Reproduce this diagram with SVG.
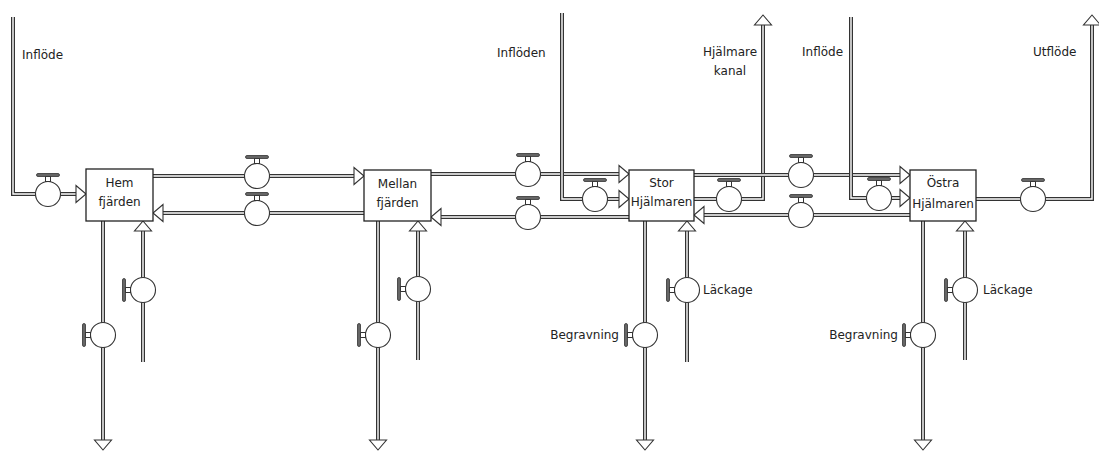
<svg xmlns="http://www.w3.org/2000/svg" xmlns:xlink="http://www.w3.org/1999/xlink" width="1099" height="453" viewBox="0 0 1099 453">
<style>
.po{fill:none;stroke:#333;stroke-width:4;stroke-linejoin:miter}
.pi{fill:none;stroke:#fff;stroke-width:1.4;stroke-linejoin:miter}
.box{fill:#fff;stroke:#222;stroke-width:1.3}
.ar{fill:#fff;stroke:#333;stroke-width:1.1;stroke-linejoin:miter}
.vc{fill:#fff;stroke:#333;stroke-width:1.1}
.vs{fill:#fff;stroke:#333;stroke-width:1}
.vb{fill:#666;stroke:#333;stroke-width:0.8}
text{font-family:"DejaVu Sans","Liberation Sans",sans-serif;font-size:12px;fill:#222}
.c{text-anchor:middle}
.e{text-anchor:end}
</style>
<defs>
<polygon id="ah" class="ar" points="0,0 -10,-8.5 -10,8.5"/>
<g id="vh">
<circle class="vc" cx="0" cy="0" r="12.5"/>
<rect class="vs" x="-2.5" y="-17.5" width="5" height="5"/>
<rect class="vb" x="-11.5" y="-20.5" width="23" height="3" rx="1.5"/>
</g>
<g id="vv" transform="rotate(-90)">
<use xlink:href="#vh"/>
</g>
<path id="p1" d="M13,17 V194 H77"/>
<path id="p2" d="M153,176 H355"/>
<path id="p3" d="M364,213 H163"/>
<path id="p4" d="M103,221 V440"/>
<path id="p5" d="M143,362 V231"/>
<path id="p6" d="M431,174 H619"/>
<path id="p7" d="M629,217 H441"/>
<path id="p8" d="M378,221 V440"/>
<path id="p9" d="M418,360 V231"/>
<path id="p10" d="M562,13 V199 H619"/>
<path id="p11" d="M694,175 H900"/>
<path id="p12" d="M910,215 H704"/>
<path id="p13" d="M694,199 H763 V25"/>
<path id="p14" d="M645,221 V440"/>
<path id="p15" d="M687,362 V231"/>
<path id="p16" d="M851,17 V198 H900"/>
<path id="p17" d="M976,199 H1092 V25"/>
<path id="p18" d="M923,221 V440"/>
<path id="p19" d="M965,360 V231"/>
</defs>
<rect width="1099" height="453" fill="#fff"/>
<g id="connectors">
<g id="pipes">
<use xlink:href="#p1" class="po"/><use xlink:href="#p1" class="pi"/>
<use xlink:href="#p2" class="po"/><use xlink:href="#p2" class="pi"/>
<use xlink:href="#p3" class="po"/><use xlink:href="#p3" class="pi"/>
<use xlink:href="#p4" class="po"/><use xlink:href="#p4" class="pi"/>
<use xlink:href="#p5" class="po"/><use xlink:href="#p5" class="pi"/>
<use xlink:href="#p6" class="po"/><use xlink:href="#p6" class="pi"/>
<use xlink:href="#p7" class="po"/><use xlink:href="#p7" class="pi"/>
<use xlink:href="#p8" class="po"/><use xlink:href="#p8" class="pi"/>
<use xlink:href="#p9" class="po"/><use xlink:href="#p9" class="pi"/>
<use xlink:href="#p10" class="po"/><use xlink:href="#p10" class="pi"/>
<use xlink:href="#p13" class="po"/><use xlink:href="#p13" class="pi"/>
<use xlink:href="#p11" class="po"/><use xlink:href="#p11" class="pi"/>
<use xlink:href="#p12" class="po"/><use xlink:href="#p12" class="pi"/>
<use xlink:href="#p14" class="po"/><use xlink:href="#p14" class="pi"/>
<use xlink:href="#p15" class="po"/><use xlink:href="#p15" class="pi"/>
<use xlink:href="#p16" class="po"/><use xlink:href="#p16" class="pi"/>
<use xlink:href="#p17" class="po"/><use xlink:href="#p17" class="pi"/>
<use xlink:href="#p18" class="po"/><use xlink:href="#p18" class="pi"/>
<use xlink:href="#p19" class="po"/><use xlink:href="#p19" class="pi"/>
</g>
<g id="arrows">
<use xlink:href="#ah" transform="translate(86,194)"/>
<use xlink:href="#ah" transform="translate(364,176)"/>
<use xlink:href="#ah" transform="translate(153,213) rotate(180)"/>
<use xlink:href="#ah" transform="translate(103,450) rotate(90)"/>
<use xlink:href="#ah" transform="translate(143,221) rotate(-90)"/>
<use xlink:href="#ah" transform="translate(629,174)"/>
<use xlink:href="#ah" transform="translate(431,217) rotate(180)"/>
<use xlink:href="#ah" transform="translate(378,450) rotate(90)"/>
<use xlink:href="#ah" transform="translate(418,221) rotate(-90)"/>
<use xlink:href="#ah" transform="translate(629,199)"/>
<use xlink:href="#ah" transform="translate(910,175)"/>
<use xlink:href="#ah" transform="translate(694,215) rotate(180)"/>
<use xlink:href="#ah" transform="translate(763,15) rotate(-90)"/>
<use xlink:href="#ah" transform="translate(645,450) rotate(90)"/>
<use xlink:href="#ah" transform="translate(687,221) rotate(-90)"/>
<use xlink:href="#ah" transform="translate(910,198)"/>
<use xlink:href="#ah" transform="translate(1092,15) rotate(-90)"/>
<use xlink:href="#ah" transform="translate(923,450) rotate(90)"/>
<use xlink:href="#ah" transform="translate(965,221) rotate(-90)"/>
</g>
<g id="valves">
<use xlink:href="#vh" transform="translate(48,194)"/>
<use xlink:href="#vh" transform="translate(257,176)"/>
<use xlink:href="#vh" transform="translate(257,213)"/>
<use xlink:href="#vv" transform="translate(103,335)"/>
<use xlink:href="#vv" transform="translate(143,290)"/>
<use xlink:href="#vh" transform="translate(528,174)"/>
<use xlink:href="#vh" transform="translate(528,217)"/>
<use xlink:href="#vv" transform="translate(378,335)"/>
<use xlink:href="#vv" transform="translate(418,289)"/>
<use xlink:href="#vh" transform="translate(595,199)"/>
<use xlink:href="#vh" transform="translate(801,175)"/>
<use xlink:href="#vh" transform="translate(801,215)"/>
<use xlink:href="#vh" transform="translate(729,199)"/>
<use xlink:href="#vv" transform="translate(645,335)"/>
<use xlink:href="#vv" transform="translate(687,290)"/>
<use xlink:href="#vh" transform="translate(879,198)"/>
<use xlink:href="#vh" transform="translate(1033,199)"/>
<use xlink:href="#vv" transform="translate(923,335)"/>
<use xlink:href="#vv" transform="translate(965,290)"/>
</g>
<g id="labels">
<text x="22" y="59">Inflöde</text>
<text x="497" y="57">Inflöden</text>
<text class="c" x="730" y="56">Hjälmare</text>
<text class="c" x="730" y="75">kanal</text>
<text x="802" y="56">Inflöde</text>
<text x="1033" y="56">Utflöde</text>
<text class="e" x="619" y="339">Begravning</text>
<text x="703" y="294">Läckage</text>
<text class="e" x="898" y="339">Begravning</text>
<text x="983" y="294">Läckage</text>
</g>
</g>
<g id="Hem">
<rect class="box" x="86" y="169" width="67" height="52"/>
<text class="c" x="119.5" y="187">Hem</text>
<text class="c" x="119.5" y="206">fjärden</text>
</g>
<g id="Mellan">
<rect class="box" x="364" y="170" width="67" height="51"/>
<text class="c" x="397.5" y="188">Mellan</text>
<text class="c" x="397.5" y="207">fjärden</text>
</g>
<g id="Stor">
<rect class="box" x="629" y="170" width="65" height="51"/>
<text class="c" x="661.5" y="187">Stor</text>
<text class="c" x="661.5" y="206">Hjälmaren</text>
</g>
<g id="Ostra">
<rect class="box" x="910" y="170" width="66" height="51"/>
<text class="c" x="943" y="187">Östra</text>
<text class="c" x="943" y="208">Hjälmaren</text>
</g>
</svg>
